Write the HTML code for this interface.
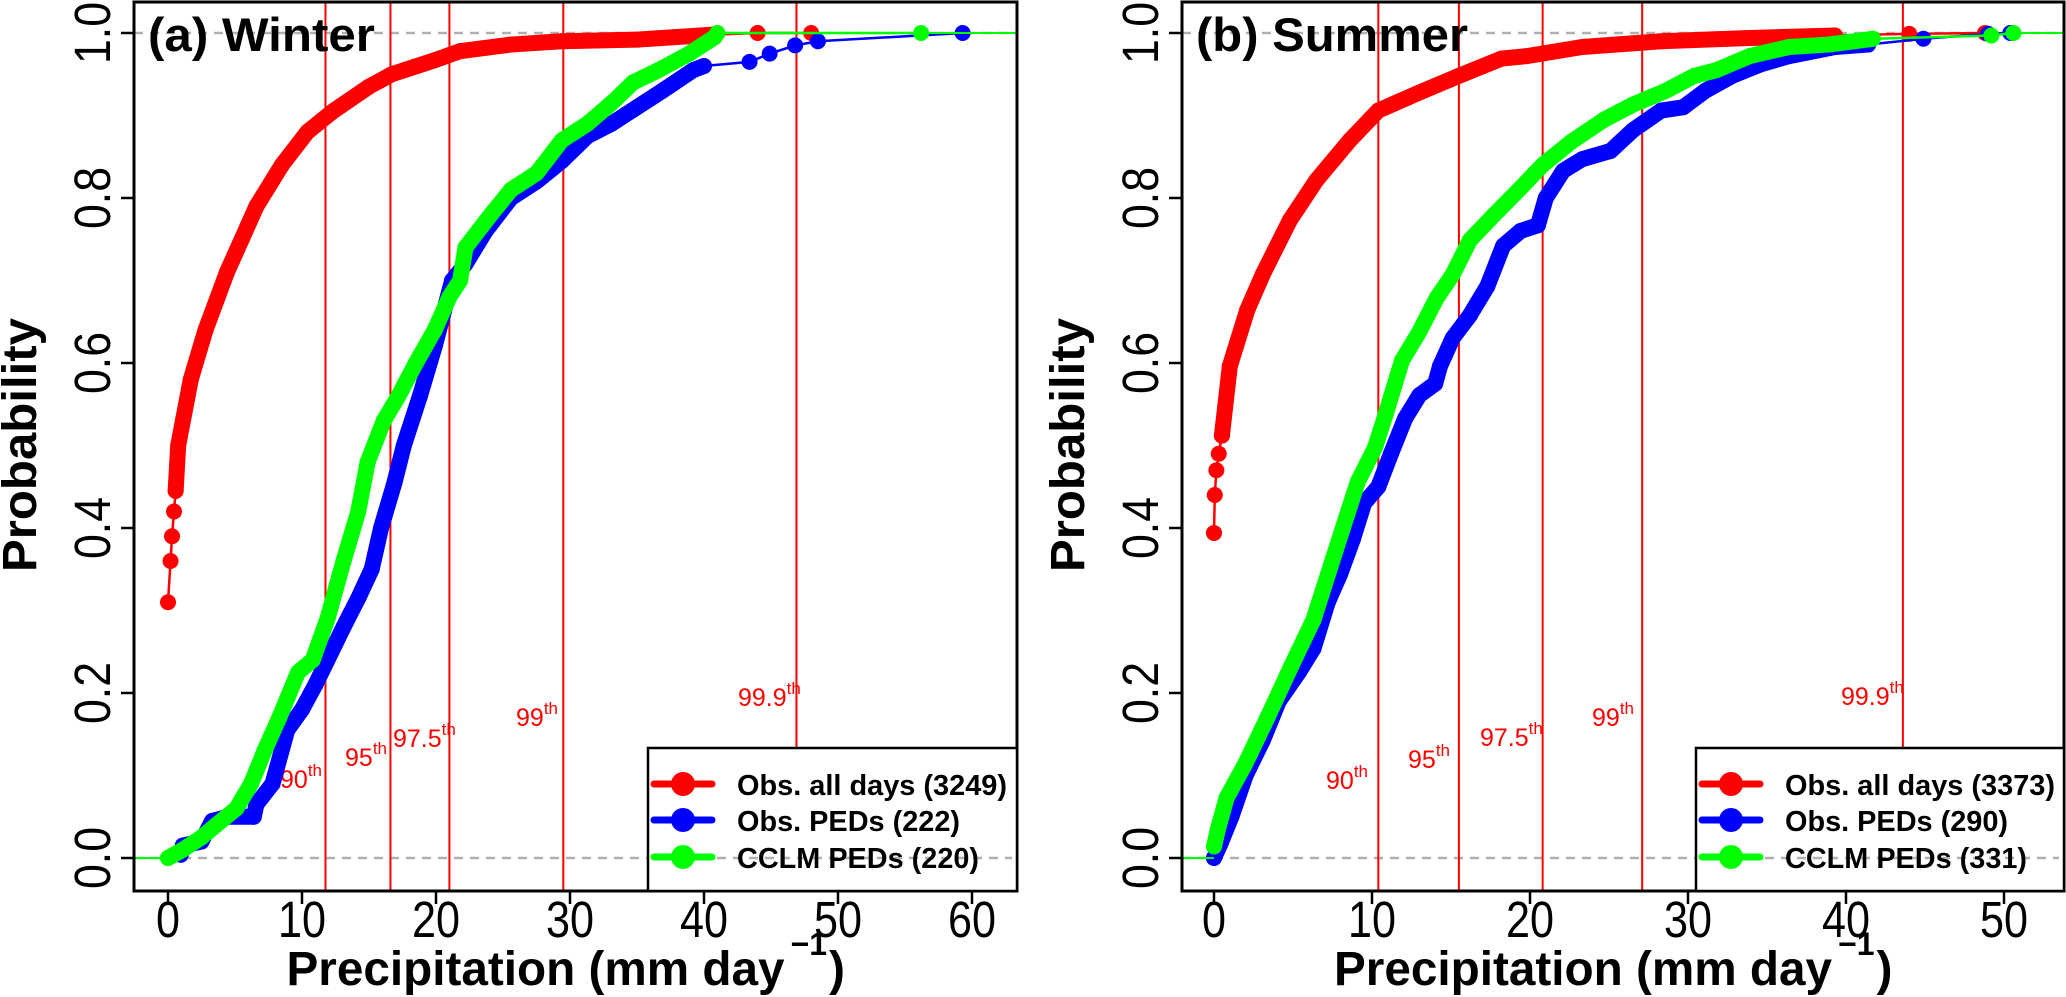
<!DOCTYPE html>
<html><head><meta charset="utf-8"><style>
html,body{margin:0;padding:0;background:#fff;}
svg{display:block;font-family:"Liberation Sans",sans-serif;}
</style></head><body>
<svg id="chart" width="2066" height="997" viewBox="0 0 2066 997" xmlns="http://www.w3.org/2000/svg"></svg>
<script>
// ---- Winter data ----
const winterRedX = [0,0.19,0.3,0.45,0.57,0.76,1.7,2.8,4.4,6.6,8.5,10.4,12.3,15,16.7,19.9,21.8,25.6,29.4,35,40.7,44,48];
const winterRedP = [0.31,0.36,0.39,0.42,0.445,0.50,0.58,0.64,0.71,0.79,0.84,0.88,0.905,0.935,0.95,0.967,0.978,0.986,0.99,0.992,0.998,1.0,1.0];
const winterBlueX = [0.95,1.1,2.5,3.3,4.5,6.4,6.6,7.8,8.9,10,11,11.9,13.1,14.2,15.2,15.9,16.9,17.6,18.8,19.9,21.2,22.2,23.7,25.6,27.5,29.4,31.3,33.1,35,36.9,39.2,40,43.4,44.9,46.8,48.5,59.3];
const winterBlueP = [0.004,0.015,0.02,0.045,0.05,0.05,0.065,0.09,0.155,0.18,0.21,0.24,0.28,0.315,0.35,0.40,0.455,0.50,0.56,0.62,0.70,0.72,0.76,0.80,0.82,0.845,0.875,0.89,0.91,0.93,0.955,0.96,0.965,0.975,0.985,0.99,1.0];
const winterGreenX = [0,1.1,2.5,3.6,5.1,6.2,7.2,8.3,9.7,10.8,11.9,13.1,14.2,14.9,16.1,17.2,18.5,19.9,21,21.8,22.2,24.1,25.6,27.5,29.4,31.3,33.1,34.7,36.6,38.9,40.8,41,56.2];
const winterGreenP = [0,0.01,0.025,0.04,0.06,0.09,0.13,0.17,0.225,0.24,0.29,0.36,0.42,0.48,0.53,0.56,0.60,0.64,0.68,0.70,0.74,0.78,0.81,0.83,0.87,0.89,0.915,0.94,0.955,0.975,0.995,1.0,1.0];
const winterPctX = [11.75,16.6,21.0,29.5,46.9];
// ---- Summer data ----
const summerRedX = [0,0.05,0.15,0.3,0.5,1.0,2.1,3.1,4.8,6.5,8.6,10.4,12.9,15.5,18.2,19.8,23.3,28.3,33.9,39.3,44,48.8];
const summerRedP = [0.394,0.44,0.47,0.49,0.512,0.596,0.664,0.708,0.773,0.822,0.87,0.906,0.927,0.948,0.969,0.972,0.983,0.99,0.994,0.997,0.999,1.0];
const summerBlueX = [0,0.4,1.1,2.0,3.1,4.1,5.4,6.3,7.2,8.0,8.8,9.5,10.4,11.2,12.1,13.0,14.0,14.3,15.1,16.2,17.3,18.3,19.4,20.5,21.0,22.1,23.3,25.1,26.5,28.3,29.7,31.1,32.8,34.6,36.4,39.3,41.4,44.9,49,50.4];
const summerBlueP = [0,0.017,0.05,0.10,0.143,0.19,0.226,0.254,0.31,0.345,0.387,0.43,0.45,0.49,0.533,0.561,0.575,0.596,0.63,0.658,0.693,0.742,0.76,0.767,0.80,0.833,0.847,0.857,0.882,0.906,0.91,0.93,0.948,0.962,0.972,0.983,0.986,0.993,0.999,1.0];
const summerGreenX = [0,0.25,0.8,2.0,3.4,4.9,6.3,7.7,9.1,10.2,10.9,11.9,13,14.1,15.1,16.2,17.6,19.4,20.8,22.6,24.7,26.5,28.6,30.4,31.8,33.9,36.4,38.9,41.7,49.2,50.6];
const summerGreenP = [0.014,0.035,0.073,0.115,0.171,0.233,0.289,0.373,0.456,0.498,0.54,0.603,0.638,0.679,0.707,0.749,0.777,0.812,0.84,0.868,0.895,0.913,0.93,0.948,0.955,0.972,0.983,0.986,0.993,0.997,1.0];
const summerPctX = [10.4,15.5,20.8,27.1,43.6];
// ---- Labels ----
const pctLabels = ["90","95","97.5","99","99.9"];
const yTicks = [0,0.2,0.4,0.6,0.8,1.0];
const winterXTicks = [0,10,20,30,40,50,60];
const summerXTicks = [0,10,20,30,40,50];
const winterLegend = ["Obs. all days (3249)","Obs. PEDs (222)","CCLM PEDs (220)"];
const summerLegend = ["Obs. all days (3373)","Obs. PEDs (290)","CCLM PEDs (331)"];

const NS = "http://www.w3.org/2000/svg";
const svg = document.getElementById('chart');
function mk(tag, attrs, parent, text){
  const e = document.createElementNS(NS, tag);
  for (const k in attrs) e.setAttribute(k, attrs[k]);
  if (text !== undefined) e.textContent = text;
  (parent || svg).appendChild(e);
  return e;
}
const Y0 = 858, YS = 825, TOP = 2, BOT = 891;
const yPix = p => Y0 - YS * p;

function panel(cfg){
  const g = mk('g', {});
  
  
  const xPix = v => cfg.x0 + cfg.xs * v;
  [0,1].forEach(p => {
    const l = mk('line', {x1: cfg.left, x2: cfg.right, y1: yPix(p), y2: yPix(p), stroke: '#b0b0b0', 'stroke-width': 2.5, 'stroke-dasharray': '9 7'}, g);
    
    
  });
  cfg.pct.forEach((v, i) => {
    const l = mk('line', {x1: xPix(v), x2: xPix(v), y1: TOP, y2: BOT, stroke: '#ff0000', 'stroke-width': 2}, g);
    
    
    const t = mk('text', {x: cfg.pctLab[i][0], y: cfg.pctLab[i][1], fill: '#ff0000', 'font-size': 25}, g);
    
    
    mk('tspan', {}, t, pctLabels[i]);
    mk('tspan', {dy: -12, 'font-size': 17}, t, 'th');
  });
  cfg.series.forEach(s => {
    const sg = mk('g', {}, g);
    
    
    const pts = s.x.map((v, i) => [xPix(v), yPix(s.p[i])]);
    mk('line', {x1: cfg.left, x2: pts[0][0], y1: yPix(0), y2: yPix(0), stroke: s.c, 'stroke-width': 2}, sg);
    mk('line', {x1: pts[pts.length-1][0], x2: cfg.right, y1: yPix(1), y2: yPix(1), stroke: s.c, 'stroke-width': 2}, sg);
    mk('polyline', {points: pts.map(q => q.join(',')).join(' '), fill: 'none', stroke: s.c, 'stroke-width': 2.5}, sg);
    const thick = [];
    s.x.forEach((v, i) => { if (i >= s.from && v <= s.to) thick.push(pts[i]); });
    mk('polyline', {points: thick.map(q => q.join(',')).join(' '), fill: 'none', stroke: s.c, 'stroke-width': 16, 'stroke-linejoin': 'round', 'stroke-linecap': 'round'}, sg);
    pts.forEach((q, i) => {
      const c = mk('circle', {cx: q[0], cy: q[1], r: 8, fill: s.c}, sg);
      
      
    });
  });
  const fr = mk('rect', {x: cfg.left, y: TOP, width: cfg.right - cfg.left, height: BOT - TOP, fill: 'none', stroke: '#000', 'stroke-width': 3}, g);
  
  
  yTicks.forEach(v => {
    mk('line', {x1: cfg.left - 13, x2: cfg.left, y1: yPix(v), y2: yPix(v), stroke: '#000', 'stroke-width': 2.5}, g);
    const t = mk('text', {x: 0, y: 0, 'font-size': 51, 'text-anchor': 'middle', textLength: 62, lengthAdjust: 'spacingAndGlyphs', transform: 'translate(' + (cfg.left - 24) + ',' + yPix(v) + ') rotate(-90)'}, g, v.toFixed(1));
    
    
  });
  cfg.xt.forEach(v => {
    mk('line', {x1: xPix(v), x2: xPix(v), y1: BOT, y2: BOT + 13, stroke: '#000', 'stroke-width': 2.5}, g);
    const s = String(v);
    const t = mk('text', {x: xPix(v), y: 937, 'font-size': 51, 'text-anchor': 'middle', textLength: s.length * 24, lengthAdjust: 'spacingAndGlyphs'}, g, s);
    
    
  });
  const cx = (cfg.left + cfg.right) / 2;
  const xt = mk('text', {x: cx - 289, y: 985, 'font-size': 48, 'font-weight': 'bold'}, g);
  
  
  mk('tspan', {textLength: 498, lengthAdjust: 'spacingAndGlyphs'}, xt, 'Precipitation (mm day');
  mk('tspan', {dx: 6, dy: -30, 'font-size': 32}, xt, '\u22121');
  mk('tspan', {dx: 2, dy: 30}, xt, ')');
  const yt = mk('text', {x: 0, y: 0, 'font-size': 48, 'font-weight': 'bold', 'text-anchor': 'middle', textLength: 254, lengthAdjust: 'spacingAndGlyphs', transform: 'translate(' + (cfg.left - 98) + ',445) rotate(-90)'}, g, 'Probability');
  
  
  const tt = mk('text', {x: cfg.left + 14, y: 51, 'font-size': 47, 'font-weight': 'bold', textLength: cfg.titleW, lengthAdjust: 'spacingAndGlyphs'}, g, cfg.title);
  
  
  const lg = mk('g', {}, g);
  
  
  mk('rect', {x: cfg.legX, y: 748, width: cfg.right - cfg.legX, height: BOT - 748, fill: '#fff', stroke: '#000', 'stroke-width': 2.5}, lg);
  mk('line', {x1: cfg.legX + 5, x2: cfg.right - 5, y1: yPix(0), y2: yPix(0), stroke: '#b0b0b0', 'stroke-width': 2.5, 'stroke-dasharray': '9 7'}, lg);
  const rows = [784, 820, 857];
  cfg.series.forEach((s, i) => {
    const e = mk('g', {}, lg);
    
    
    mk('line', {x1: cfg.legX + 6, x2: cfg.legX + 64, y1: rows[i], y2: rows[i], stroke: s.c, 'stroke-width': 7, 'stroke-linecap': 'round'}, e);
    mk('circle', {cx: cfg.legX + 35, cy: rows[i], r: 12, fill: s.c}, e);
    mk('text', {x: cfg.legX + 89, y: rows[i] + 11, 'font-size': 29, 'font-weight': 'bold', textLength: cfg.legW[i], lengthAdjust: 'spacingAndGlyphs'}, e, cfg.leg[i]);
  });
}

panel({
  name: 'winter-panel', left: 134, right: 1017, x0: 168, xs: 13.4, xt: winterXTicks,
  title: '(a) Winter', titleW: 227, pct: winterPctX,
  pctLab: [[280,788],[345,766],[393,747],[516,726],[738,706]],
  legX: 648, leg: winterLegend, legW: [270, 223, 242],
  series: [
    {name: 'obs-all-days-winter', c: '#ff0000', x: winterRedX, p: winterRedP, from: 4, to: 42},
    {name: 'obs-peds-winter', c: '#0000ff', x: winterBlueX, p: winterBlueP, from: 0, to: 40},
    {name: 'cclm-peds-winter', c: '#00ff00', x: winterGreenX, p: winterGreenP, from: 0, to: 41}
  ]
});
panel({
  name: 'summer-panel', left: 1182, right: 2064, x0: 1214, xs: 15.8, xt: summerXTicks,
  title: '(b) Summer', titleW: 272, pct: summerPctX,
  pctLab: [[1326,789],[1408,768],[1480,746],[1592,726],[1841,705]],
  legX: 1696, leg: summerLegend, legW: [270, 223, 242],
  series: [
    {name: 'obs-all-days-summer', c: '#ff0000', x: summerRedX, p: summerRedP, from: 4, to: 40},
    {name: 'obs-peds-summer', c: '#0000ff', x: summerBlueX, p: summerBlueP, from: 0, to: 41.4},
    {name: 'cclm-peds-summer', c: '#00ff00', x: summerGreenX, p: summerGreenP, from: 0, to: 41.7}
  ]
});
</script>
</body></html>
